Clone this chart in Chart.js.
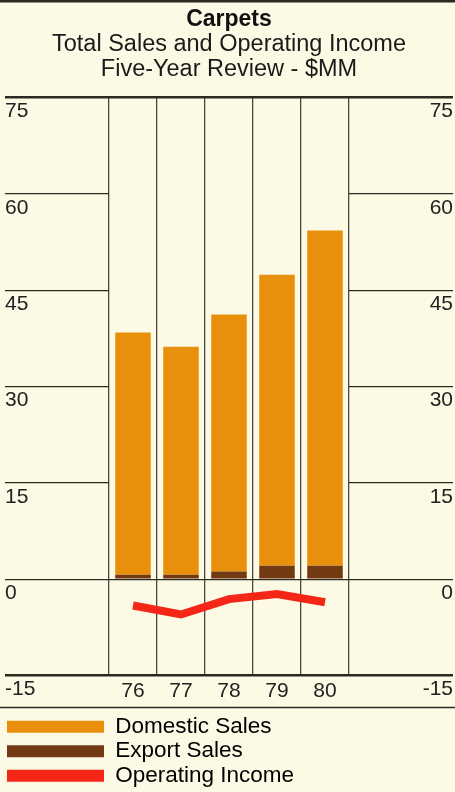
<!DOCTYPE html>
<html>
<head>
<meta charset="utf-8">
<title>Carpets</title>
<script src="https://cdn.jsdelivr.net/npm/chart.js@4"></script>
<style>
  html, body { margin: 0; padding: 0; background: #fcfae4; overflow: hidden; }
  #wrap { position: relative; width: 455px; height: 797px; }
</style>
</head>
<body>
<div id="wrap"><canvas id="chart"></canvas></div>
<script>
// Carpets: sales and operating income, $MM
const years = ['76', '77', '78', '79', '80'];
const domesticSales = [37.7, 35.5, 40.0, 45.3, 52.2];
const exportSales = [0.7, 0.7, 1.2, 2.1, 2.1];
const operatingIncome = [-4.1, -5.5, -3.1, -2.3, -3.6];
const yTicks = [-15, 0, 15, 30, 45, 60, 75];

const INK = '#2b2a22';
const FONT = '"Liberation Sans", Arial, Helvetica, sans-serif';

const isFrame = v => v === 75 || v === -15;
const isFull = v => v === 75 || v === 0 || v === -15;

// Rules above the title and above the legend
const framePlugin = {
  id: 'frame',
  afterDraw(chart) {
    const { ctx, width, legend } = chart;
    ctx.save();
    ctx.strokeStyle = INK;
    ctx.lineWidth = 2.5;
    ctx.beginPath();
    ctx.moveTo(0, 1.2);
    ctx.lineTo(width, 1.2);
    ctx.stroke();
    ctx.lineWidth = 1.6;
    const y = legend.top - 6;
    ctx.beginPath();
    ctx.moveTo(0, y);
    ctx.lineTo(width, y);
    ctx.stroke();
    ctx.restore();
  }
};

const yAxisCommon = (position, drawOnArea) => ({
  type: 'linear',
  position,
  min: -15,
  max: 75,
  stacked: true,
  border: { display: false },
  afterBuildTicks: scale => { scale.ticks = yTicks.map(v => ({ value: v })); },
  afterFit: scale => { scale.width = 104; },
  grid: {
    drawOnChartArea: drawOnArea,
    drawTicks: true,
    tickLength: 104,
    color: c => (c.tick && isFull(c.tick.value)) ? INK : 'rgba(0,0,0,0)',
    lineWidth: c => (c.tick && isFrame(c.tick.value)) ? 2.4 : 1.3,
    tickColor: INK,
    tickWidth: c => (c.tick && isFrame(c.tick.value)) ? 2.4 : 1.3
  },
  ticks: {
    crossAlign: 'far',
    labelOffset: 14,
    color: '#222',
    font: { family: FONT, size: 21 },
    callback: v => String(v)
  }
});

Chart.defaults.font.family = FONT;

new Chart(document.getElementById('chart'), {
  type: 'bar',
  data: {
    labels: years,
    datasets: [
      {
        label: 'Export Sales',
        data: exportSales,
        backgroundColor: '#713a12',
        stack: 'sales',
        categoryPercentage: 1,
        barPercentage: 0.74,
        order: 2
      },
      {
        label: 'Domestic Sales',
        data: domesticSales,
        backgroundColor: '#e8900c',
        stack: 'sales',
        categoryPercentage: 1,
        barPercentage: 0.74,
        order: 2
      },
      {
        type: 'line',
        label: 'Operating Income',
        data: operatingIncome,
        borderColor: '#f42618',
        backgroundColor: '#f42618',
        borderWidth: 8,
        borderCapStyle: 'butt',
        borderJoinStyle: 'miter',
        pointRadius: 0,
        tension: 0,
        stack: 'income',
        order: 1
      }
    ]
  },
  options: {
    responsive: true,
    maintainAspectRatio: false,
    animation: false,
    events: [],
    layout: { padding: { left: 5, right: 2, top: 0, bottom: 0 } },
    scales: {
      x: {
        stacked: true,
        offset: true,
        border: { display: false },
        afterFit: scale => { scale.height = 38; },
        grid: {
          offset: true,
          drawTicks: false,
          color: '#4a4840',
          lineWidth: 1.3
        },
        ticks: {
          padding: 3,
          color: '#222',
          font: { family: FONT, size: 21 }
        }
      },
      y: yAxisCommon('left', true),
      y2: yAxisCommon('right', false)
    },
    plugins: {
      title: {
        display: true,
        text: 'Carpets',
        color: '#111',
        font: { family: FONT, size: 23, weight: 'bold', lineHeight: 1.05 },
        padding: { top: 8, bottom: 0 }
      },
      subtitle: {
        display: true,
        text: ['Total Sales and Operating Income', 'Five-Year Review - $MM'],
        color: '#1a1a1a',
        font: { family: FONT, size: 23.5, lineHeight: 1.05 },
        padding: { top: 0, bottom: 16 }
      },
      legend: {
        position: 'bottom',
        align: 'start',
        labels: {
          boxWidth: 97,
          boxHeight: 12,
          padding: 2,
          color: '#1a1a1a',
          font: { family: FONT, size: 22.5 },
          generateLabels: chart => chart.data.datasets.map((ds, i) => ({
            text: ds.label,
            fillStyle: ds.type === 'line' ? ds.borderColor : ds.backgroundColor,
            strokeStyle: 'rgba(0,0,0,0)',
            lineWidth: 0,
            hidden: false,
            datasetIndex: i
          })),
          sort: (a, b) => {
            const rank = { 'Domestic Sales': 0, 'Export Sales': 1, 'Operating Income': 2 };
            return rank[a.text] - rank[b.text];
          }
        }
      },
      tooltip: { enabled: false }
    }
  },
  plugins: [framePlugin]
});
</script>
</body>
</html>
